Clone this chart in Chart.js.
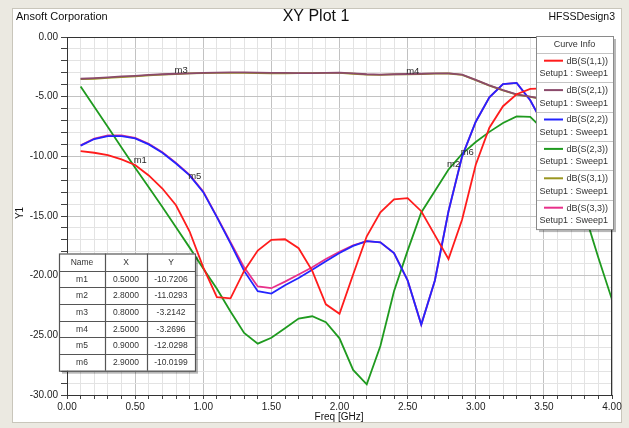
<!DOCTYPE html>
<html><head><meta charset="utf-8">
<script src="https://cdn.jsdelivr.net/npm/chart.js@4/dist/chart.umd.min.js"></script>
<style>html,body{margin:0;padding:0;background:#fff}#wrap{width:629px;height:428px}</style>
</head><body><div id="wrap"><canvas id="c" width="629" height="428"></canvas></div>
<script>
// ---- data ----
const freq = [0.1,0.2,0.3,0.4,0.5,0.6,0.7,0.8,0.9,1.0,1.1,1.2,1.3,1.4,1.5,1.6,1.7,1.8,1.9,2.0,2.1,2.2,2.3,2.4,2.5,2.6,2.7,2.8,2.9,3.0,3.1,3.2,3.3,3.4,3.5,3.6,3.7,3.8,3.9,4.0];
const s11 = [-9.57,-9.7,-9.9,-10.25,-10.72,-11.6,-12.7,-14.1,-16.3,-19.3,-21.8,-21.9,-19.6,-17.9,-17.0,-16.95,-17.7,-19.6,-22.4,-23.2,-19.9,-16.7,-14.7,-13.6,-13.5,-14.6,-16.6,-18.6,-15.3,-10.7,-7.6,-5.8,-4.8,-4.35,-4.3,-4.6,-5.3,-6.2,-7.3,-8.5];
const s21 = [-3.5,-3.45,-3.38,-3.3,-3.25,-3.18,-3.12,-3.08,-3.04,-3.0,-2.98,-2.97,-2.97,-2.98,-3.0,-3.0,-3.02,-3.02,-3.0,-2.98,-3.05,-3.12,-3.15,-3.12,-3.1,-3.08,-3.05,-3.05,-3.15,-3.6,-4.05,-4.45,-4.8,-5.0,-5.2,-5.35,-5.5,-5.6,-5.7,-5.8];
const s22 = [-9.1,-8.55,-8.3,-8.3,-8.5,-9.0,-9.7,-10.6,-11.6,-13.0,-15.1,-17.3,-19.6,-21.3,-21.5,-20.8,-20.2,-19.5,-18.8,-18.1,-17.5,-17.1,-17.2,-18.1,-20.4,-24.1,-20.4,-14.6,-10.0,-7.1,-5.05,-3.95,-3.85,-5.3,-7.4,-8.4,-9.0,-9.4,-9.7,-9.9];
const s23 = [-4.15,-5.85,-7.55,-9.25,-10.95,-12.6,-14.25,-15.95,-17.65,-19.4,-21.1,-23.0,-24.8,-25.7,-25.2,-24.4,-23.6,-23.4,-23.9,-25.25,-27.9,-29.1,-25.9,-21.3,-17.9,-14.7,-12.9,-11.1,-9.8,-8.8,-7.95,-7.2,-6.65,-6.7,-7.8,-9.5,-11.6,-14.8,-18.5,-22.0];
const s31 = [-3.52,-3.5,-3.43,-3.36,-3.3,-3.22,-3.15,-3.1,-3.05,-3.02,-3.0,-3.0,-3.0,-3.03,-3.05,-3.04,-3.03,-3.02,-3.0,-3.0,-3.08,-3.15,-3.17,-3.14,-3.12,-3.1,-3.07,-3.06,-3.17,-3.62,-4.07,-4.47,-4.82,-5.02,-5.22,-5.37,-5.52,-5.62,-5.72,-5.82];
const s33 = [-9.08,-8.52,-8.25,-8.25,-8.45,-8.95,-9.65,-10.55,-11.55,-12.95,-15.05,-17.2,-19.3,-20.9,-21.05,-20.5,-19.9,-19.3,-18.6,-18.0,-17.45,-17.1,-17.2,-18.1,-20.4,-24.1,-20.4,-14.6,-10.0,-7.1,-5.05,-3.95,-3.85,-5.3,-7.4,-8.4,-9.0,-9.4,-9.7,-9.9];
const seriesNames = ['dB(S(1,1))','dB(S(2,1))','dB(S(2,2))','dB(S(2,3))','dB(S(3,1))','dB(S(3,3))'];
const seriesColors = ['#ff1c1c','#8b4a6b','#2424ff','#1f9a1f','#9a9620','#e8308a'];
const markerNames = ['m1','m2','m3','m4','m5','m6'];
const markerX = [0.5,2.8,0.8,2.5,0.9,2.9];
const markerY = [-10.7206,-11.0293,-3.2142,-3.2696,-12.0298,-10.0199];
const xTickStep = 0.1, yTickStep = 1;

// ---- helpers ----
const FONT = '"Liberation Sans", Arial, sans-serif';
const isMult = (v, m) => Math.abs(v / m - Math.round(v / m)) < 1e-6;
const mk = ys => freq.map((f, i) => ({x: f, y: ys[i]}));

const decor = {
  id: 'decor',
  beforeDraw(chart) {
    const c = chart.ctx; c.save();
    c.fillStyle = '#ebe9e1'; c.fillRect(0, 0, 629, 428);
    c.fillStyle = '#ffffff'; c.fillRect(12, 8, 610, 415);
    c.strokeStyle = '#c9c6bb'; c.lineWidth = 1; c.strokeRect(12.5, 8.5, 609, 414);
    c.restore();
  },
  afterDatasetsDraw(chart) {
    const c = chart.ctx, a = chart.chartArea, xs = chart.scales.x, ys = chart.scales.y;
    c.save();
    // plot frame
    c.strokeStyle = '#333'; c.lineWidth = 1;
    c.strokeRect(Math.round(a.left) + 0.5, Math.round(a.top) + 0.5, Math.round(a.right - a.left) - 1, Math.round(a.bottom - a.top));
    // marker labels
    c.fillStyle = '#2a2a2a'; c.font = '9.5px ' + FONT; c.textAlign = 'left'; c.textBaseline = 'middle';
    markerNames.forEach((n, i) => {
      c.fillText(n, xs.getPixelForValue(markerX[i]) - 1.5, ys.getPixelForValue(markerY[i]) - 4.5);
    });
    // legend box
    const L = 536, R = 613, T = 36, rowH = 29.4, head = 16.7, B = T + head + 6 * rowH;
    c.fillStyle = 'rgba(0,0,0,0.28)'; c.fillRect(L + 3, T + 3, R - L, B - T);
    c.fillStyle = '#fff'; c.fillRect(L, T, R - L, B - T);
    c.strokeStyle = '#8a8a8a'; c.strokeRect(L + 0.5, T + 0.5, R - L, B - T);
    c.fillStyle = '#333'; c.font = '9px ' + FONT; c.textAlign = 'center';
    c.fillText('Curve Info', (L + R) / 2, T + 8.5);
    for (let i = 0; i < 6; i++) {
      const top = T + head + i * rowH;
      c.strokeStyle = '#c4c4c4'; c.beginPath(); c.moveTo(L + 1, Math.round(top) + 0.5); c.lineTo(R, Math.round(top) + 0.5); c.stroke();
      c.strokeStyle = seriesColors[i]; c.lineWidth = 2; c.beginPath(); c.moveTo(L + 8, top + 8); c.lineTo(L + 27, top + 8); c.stroke(); c.lineWidth = 1;
      c.fillStyle = '#333'; c.textAlign = 'right';
      c.fillText(seriesNames[i], R - 5, top + 8.5);
      c.fillText('Setup1 : Sweep1', R - 5, top + 21);
    }
    // marker table
    const cols = [59, 105, 147, 195], tT = 253.5, hH = 17, rH = 16.7, tB = tT + hH + 6 * rH;
    c.fillStyle = 'rgba(0,0,0,0.28)'; c.fillRect(cols[0] + 3, tT + 3, cols[3] - cols[0], tB - tT);
    c.fillStyle = '#fff'; c.fillRect(cols[0], tT, cols[3] - cols[0], tB - tT);
    c.strokeStyle = '#555'; c.lineWidth = 1.2;
    c.strokeRect(cols[0] + 0.5, tT + 0.5, cols[3] - cols[0], tB - tT);
    c.beginPath();
    [cols[1], cols[2]].forEach(x => { c.moveTo(x + 0.5, tT); c.lineTo(x + 0.5, tB); });
    for (let r = 0; r < 6; r++) { const y = Math.round(tT + hH + r * rH) + 0.5; c.moveTo(cols[0], y); c.lineTo(cols[3], y); }
    c.stroke();
    c.textAlign = 'center'; c.fillStyle = '#333'; c.font = '8.5px ' + FONT;
    const cx = [(cols[0] + cols[1]) / 2, (cols[1] + cols[2]) / 2, (cols[2] + cols[3]) / 2];
    c.fillText('Name', cx[0], tT + hH / 2 + 0.5); c.fillText('X', cx[1], tT + hH / 2 + 0.5); c.fillText('Y', cx[2], tT + hH / 2 + 0.5);
    markerNames.forEach((n, r) => {
      const y = tT + hH + r * rH + rH / 2 + 0.5;
      c.fillText(n, cx[0], y); c.fillText(markerX[r].toFixed(4), cx[1], y); c.fillText(markerY[r].toFixed(4), cx[2], y);
    });
    c.restore();
  },
  afterDraw(chart) {
    const c = chart.ctx; c.save();
    c.fillStyle = '#111'; c.textBaseline = 'middle';
    c.font = '11px ' + FONT; c.textAlign = 'left'; c.fillText('Ansoft Corporation', 16, 17);
    c.font = '16px ' + FONT; c.textAlign = 'center'; c.fillText('XY Plot 1', 316, 17);
    c.font = '10.5px ' + FONT; c.textAlign = 'right'; c.fillText('HFSSDesign3', 615, 17);
    c.font = '10px ' + FONT; c.textAlign = 'center'; c.fillText('Freq [GHz]', 339, 417);
    c.translate(20, 213); c.rotate(-Math.PI / 2); c.fillText('Y1', 0, 0);
    c.restore();
  }
};

const ds = (i, ys) => ({label: seriesNames[i], data: mk(ys), borderColor: seriesColors[i], borderWidth: 1.8, pointRadius: 0, tension: 0, fill: false});

new Chart(document.getElementById('c'), {
  type: 'line',
  data: { datasets: [ds(0, s11), ds(1, s21), ds(2, s22), ds(3, s23), ds(4, s31), ds(5, s33)] },
  options: {
    responsive: false, animation: false, devicePixelRatio: 1,
    layout: { padding: { top: 37, right: 17, left: 0, bottom: 0 } },
    plugins: { legend: { display: false }, tooltip: { enabled: false }, title: { display: false } },
    scales: {
      x: {
        type: 'linear', min: 0, max: 4,
        afterFit: s => { s.height = 33; },
        border: { display: true, color: '#333', width: 1 },
        grid: { color: ctx => (ctx.tick && isMult(ctx.tick.value, 0.5)) ? '#c2c2c2' : '#e3e3e3', tickColor: '#444', tickLength: 4, lineWidth: 1 },
        ticks: { stepSize: xTickStep, autoSkip: false, maxRotation: 0, maxTicksLimit: 100, padding: 2, color: '#222', font: { family: FONT, size: 10 },
          callback: v => isMult(v, 0.5) ? Number(v).toFixed(2) : '' }
      },
      y: {
        type: 'linear', min: -30, max: 0,
        afterFit: s => { s.width = 67; },
        border: { display: true, color: '#333', width: 1 },
        grid: { color: ctx => (ctx.tick && isMult(ctx.tick.value, 5)) ? '#c2c2c2' : '#e3e3e3', tickColor: '#444', tickLength: 6, lineWidth: 1 },
        ticks: { stepSize: yTickStep, autoSkip: false, maxTicksLimit: 100, padding: 3, color: '#222', font: { family: FONT, size: 10 },
          callback: v => isMult(v, 5) ? Number(v).toFixed(2) : '' }
      }
    }
  },
  plugins: [decor]
});
</script>
</body></html>
